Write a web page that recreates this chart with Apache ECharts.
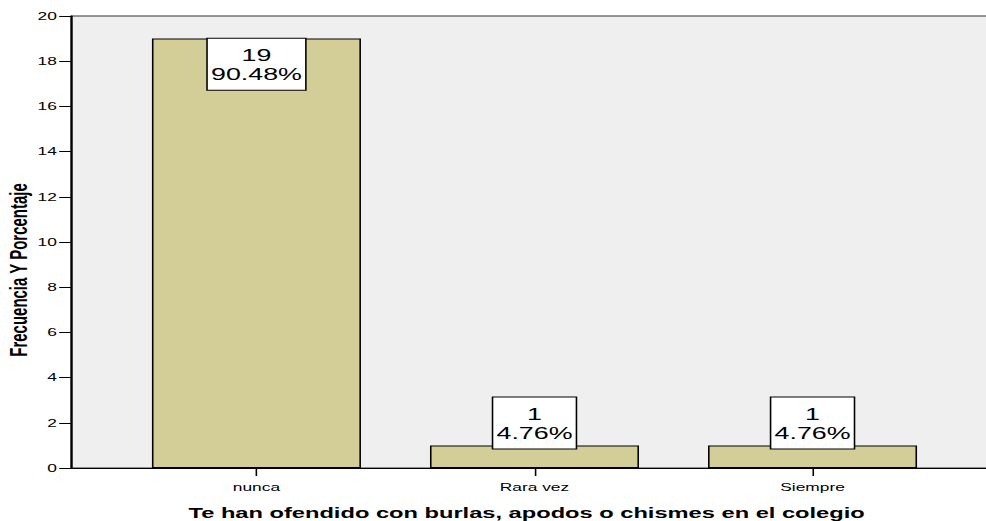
<!DOCTYPE html>
<html>
<head>
<meta charset="utf-8">
<script src="https://cdn.jsdelivr.net/npm/echarts@6/dist/echarts.min.js"></script>
<style>
html,body{margin:0;padding:0;background:#fff;overflow:hidden;}
#chart{width:625px;height:521px;transform:scaleX(1.5776);transform-origin:0 0;}
</style>
</head>
<body>
<div id="chart"></div>
<script>
var categories = ['nunca', 'Rara vez', 'Siempre'];
var counts = [19, 1, 1];
var percents = ['90.48%', '4.76%', '4.76%'];
var yTicks = { min: 0, max: 20, interval: 2 };
var xTitle = 'Te han ofendido con burlas, apodos o chismes en el colegio';
var yTitle = 'Frecuencia Y Porcentaje';

var chart = echarts.init(document.getElementById('chart'), null, { renderer: 'svg' });
var positions = categories.map(function (c, i) { return i; });

var data = counts.map(function (v, i) {
  var inside = v > 5;
  return {
    value: [i, v],
    label: inside ? { position: 'insideTop', distance: 0.1 } : { position: 'top', distance: -3 }
  };
});

chart.setOption({
  animation: false,
  backgroundColor: '#ffffff',
  grid: {
    left: 45, right: -7.6, top: 16, bottom: 53,
    containLabel: false,
    outerBoundsMode: 'none',
    show: true, backgroundColor: '#efefef', borderColor: '#333', borderWidth: 1
  },
  xAxis: {
    type: 'value',
    min: -0.667, max: 2.667,
    splitLine: { show: false },
    axisLine: { show: true, onZero: false, lineStyle: { color: '#000', width: 1.2 } },
    axisTick: { show: true, length: 8, customValues: positions, lineStyle: { color: '#000', width: 1 } },
    axisLabel: {
      customValues: positions,
      formatter: function (v) { return categories[Math.round(v)]; },
      color: '#000', fontSize: 11, fontFamily: 'Liberation Sans, Arial, sans-serif', margin: 14
    },
    name: xTitle,
    nameLocation: 'middle',
    nameGap: 37,
    nameMoveOverlap: false,
    nameTextStyle: { color: '#000', fontSize: 15, fontWeight: 'bold', fontFamily: 'Liberation Sans, Arial, sans-serif', padding: [0, 10, 0, 0] }
  },
  yAxis: {
    type: 'value',
    min: yTicks.min, max: yTicks.max, interval: yTicks.interval,
    splitLine: { show: false },
    axisLine: { show: true, onZero: false, lineStyle: { color: '#000', width: 1.2 } },
    axisTick: { show: true, length: 7.5, lineStyle: { color: '#000', width: 1 } },
    axisLabel: { color: '#000', fontSize: 11, fontFamily: 'Liberation Sans, Arial, sans-serif', margin: 9 },
    name: yTitle,
    nameLocation: 'middle',
    nameGap: 26,
    nameMoveOverlap: false,
    nameTextStyle: { color: '#000', fontSize: 15, fontWeight: 'bold', fontFamily: 'Liberation Sans, Arial, sans-serif', padding: [0, 56, 0, 0] }
  },
  series: [{
    type: 'bar',
    data: data,
    barWidth: 132.5,
    itemStyle: { color: '#d3ce98', borderColor: '#000', borderWidth: 1 },
    labelLine: { show: false },
    label: {
      show: true,
      formatter: function (p) { return counts[p.dataIndex] + '\n' + percents[p.dataIndex]; },
      color: '#000', fontSize: 17, lineHeight: 19,
      fontFamily: 'Liberation Sans, Arial, sans-serif',
      backgroundColor: '#ffffff', borderColor: '#000', borderWidth: 1,
      padding: [7, 2, 6, 2]
    }
  }]
});
</script>
</body>
</html>
